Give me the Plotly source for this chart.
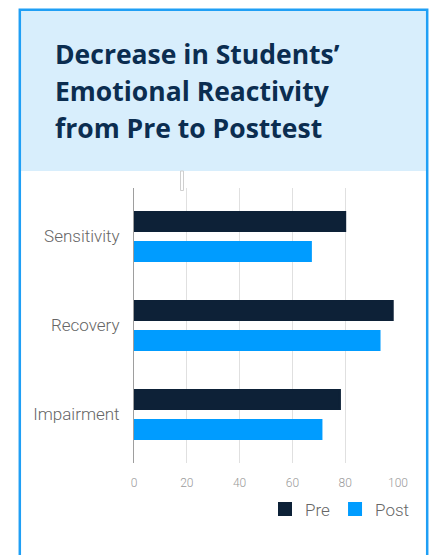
import plotly.graph_objects as go

categories = ["Sensitivity", "Recovery", "Impairment"]
pre_values = [80, 98, 78]
post_values = [67, 93, 71]
x_ticks = [0, 20, 40, 60, 80, 100]
title_lines = ["Decrease in Students’", "Emotional Reactivity", "from Pre to Posttest"]

W, H = 430, 555
L, R, T, B = 134, 32, 188, 92
PW, PH = W - L - R, H - T - B

def px(x):
    return (x - L) / PW

def py(y):
    return (H - B - y) / PH

fig = go.Figure()
fig.add_trace(go.Bar(y=categories, x=pre_values, name="Pre", orientation="h",
                     marker=dict(color="#0d2137", line=dict(width=2, color="#0d2137"))))
fig.add_trace(go.Bar(y=categories, x=post_values, name="Post", orientation="h",
                     marker=dict(color="#009cff", line=dict(width=2, color="#009cff"))))

shapes = [
    dict(type="rect", xref="paper", yref="paper", x0=px(20), x1=px(427), y0=py(171), y1=py(10),
         fillcolor="#d8eefc", line=dict(width=0), layer="below"),
    dict(type="rect", xref="paper", yref="paper", x0=px(19.8), x1=px(427.2), y0=py(570), y1=py(9.8),
         fillcolor="rgba(0,0,0,0)", line=dict(color="#1f9ff5", width=2.5), layer="above"),
    dict(type="rect", xref="paper", yref="paper", x0=px(180.5), x1=px(183.5), y0=py(190.5), y1=py(171),
         fillcolor="white", line=dict(color="#cfcfcf", width=1), layer="above"),
]

annotations = []
for i, line in enumerate(title_lines):
    annotations.append(dict(text=line, xref="paper", yref="paper", x=px(53), y=py(54 + 37 * i),
                            xanchor="left", yanchor="middle", showarrow=False,
                            font=dict(family="Open Sans", size=26.5, color="#0b2d50", weight="bold")))

fig.update_layout(
    width=W, height=H, autosize=False,
    margin=dict(l=L, r=R, t=T, b=B, pad=0),
    paper_bgcolor="white", plot_bgcolor="white",
    barmode="group", bargap=0.326, bargroupgap=0.3667,
    showlegend=True,
    legend=dict(orientation="h", x=px(265), y=py(509.5), xanchor="left", yanchor="middle",
                traceorder="normal", font=dict(family="Roboto", size=17, color="#666666", weight=300),
                bgcolor="rgba(0,0,0,0)"),
    xaxis=dict(range=[0, 100], tickvals=x_ticks, showgrid=True, gridcolor="#e0e0e0", gridwidth=1,
               zeroline=False, showline=False, ticks="", ticklabelstandoff=11,
               tickfont=dict(family="Roboto", size=12, color="#9a9a9a", weight=300)),
    yaxis=dict(range=[2.545, -0.545], showgrid=False, zeroline=False, showline=True,
               linecolor="#9e9e9e", linewidth=1, ticks="", ticklabelstandoff=10,
               tickfont=dict(family="Roboto", size=17, color="#666666", weight=300)),
    shapes=shapes, annotations=annotations,
)

fig.write_html("out.html")
